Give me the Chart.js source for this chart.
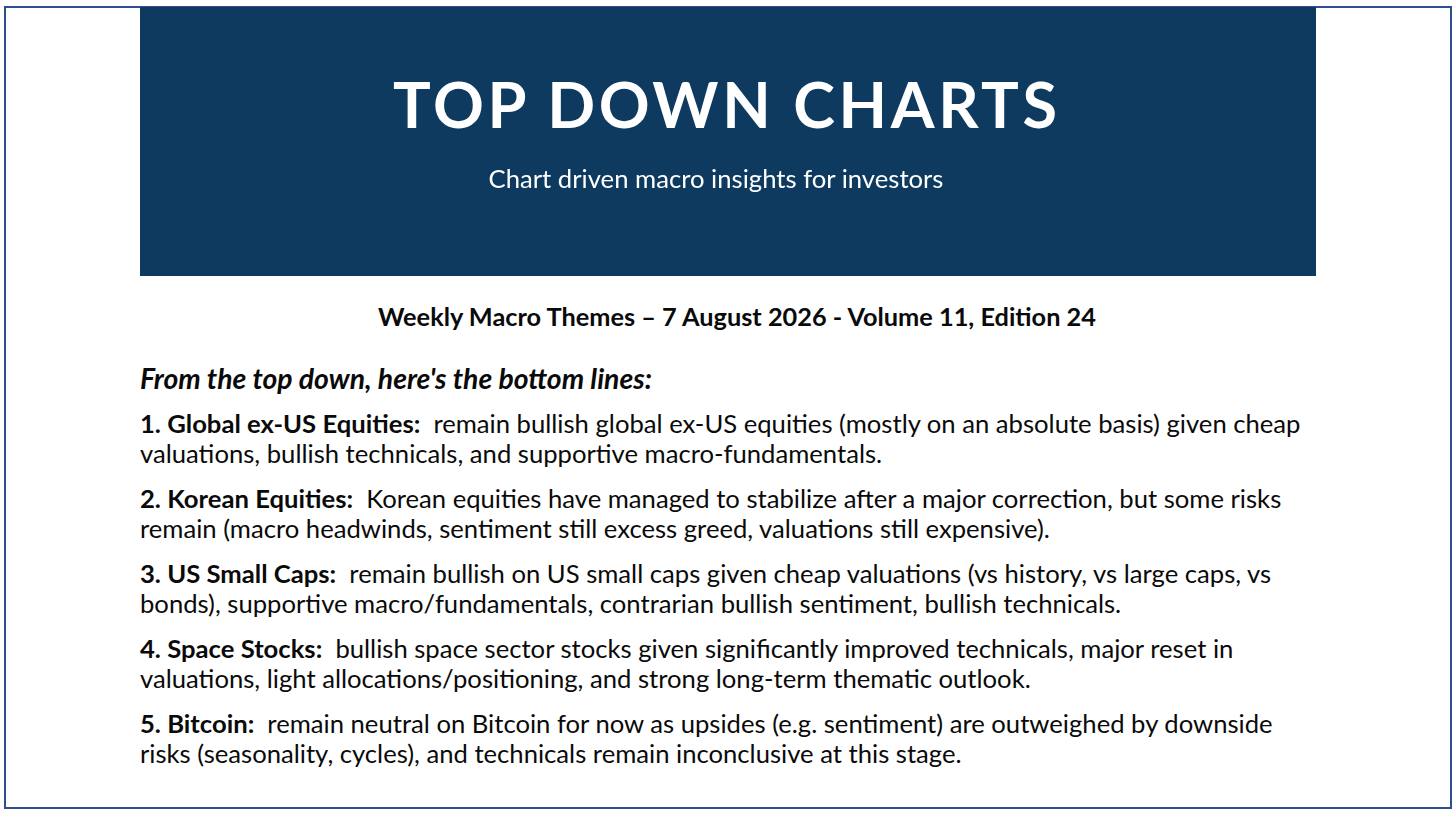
<!DOCTYPE html>
<html>
<head>
<meta charset="utf-8">
<script src="https://cdn.jsdelivr.net/npm/chart.js@4.4.1/dist/chart.umd.min.js"></script>
<style>
  html,body{margin:0;padding:0;background:#fff;}
  body{width:1456px;height:813px;position:relative;overflow:hidden;font-family:Lato,"Open Sans",sans-serif;color:#0a0a0a;}
  #frame{position:absolute;left:4px;top:6px;width:1444px;height:799px;border:2px solid #2f4f8e;}
  #bannerWrap{position:absolute;left:140px;top:7px;width:1176px;height:269px;}
  #banner{position:absolute;left:0;top:0;width:1176px;height:269px;}
  .ln{position:absolute;white-space:pre;line-height:30px;height:30px;}
  b{font-weight:700;}
</style>
</head>
<body>
<div id="frame"></div>
<div id="bannerWrap"><canvas id="banner" width="1176" height="269"></canvas></div>
<div id="texts"></div>
<script>
// ---- content ----
const bannerTitle = ["TOP DOWN CHARTS"];
const bannerSubtitle = ["Chart driven macro insights for investors"];
const headingText = ["Weekly Macro Themes \u2013 7 August 2026 - Volume 11, Edition 24"];
const introText = ["From the top down, here's the bottom lines:"];
const itemLabels = ["1. Global ex-US Equities:", "2. Korean Equities:", "3. US Small Caps:", "4. Space Stocks:", "5. Bitcoin:"];
const itemFirstLines = [
  "  remain bullish global ex-US equities (mostly on an absolute basis) given cheap",
  "  Korean equities have managed to stabilize after a major correction, but some risks",
  "  remain bullish on US small caps given cheap valuations (vs history, vs large caps, vs",
  "  bullish space sector stocks given significantly improved technicals, major reset in",
  "  remain neutral on Bitcoin for now as upsides (e.g. sentiment) are outweighed by downside"
];
const itemSecondLines = [
  "valuations, bullish technicals, and supportive macro-fundamentals.",
  "remain (macro headwinds, sentiment still excess greed, valuations still expensive).",
  "bonds), supportive macro/fundamentals, contrarian bullish sentiment, bullish technicals.",
  "valuations, light allocations/positioning, and strong long-term thematic outlook.",
  "risks (seasonality, cycles), and technicals remain inconclusive at this stage."
];

// ---- banner via Chart.js ----
const bgPlugin = {
  id: 'bannerBg',
  beforeDraw(chart){
    const c = chart.ctx;
    c.save();
    c.fillStyle = '#0d3a5e';
    c.fillRect(0,0,chart.width,chart.height);
    c.restore();
  }
};
new Chart(document.getElementById('banner'), {
  type: 'bar',
  data: { labels: [], datasets: [] },
  options: {
    responsive: false, animation: false,
    plugins: { legend: {display:false}, tooltip:{enabled:false}, title:{display:false} },
    scales: { x:{display:false}, y:{display:false} }
  },
  plugins: [bgPlugin]
});

// ---- text layout ----
const T = document.getElementById('texts');
function mk(html, opts){
  const d = document.createElement('div');
  d.className = 'ln';
  d.innerHTML = html;
  Object.assign(d.style, opts);
  T.appendChild(d);
  return d;
}
function esc(s){return s.replace(/&/g,'&amp;').replace(/</g,'&lt;');}

const BODY = 23;
const ASC = 0.387; // baseline offset from line-box center (Lato)
function place(el, baseline, fs, lh){
  el.style.fontSize = fs+'px';
  el.style.lineHeight = lh+'px';
  el.style.height = lh+'px';
  el.style.top = (baseline - lh/2 - ASC*fs)+'px';
}

const title = mk(esc(bannerTitle[0]), {color:'#fff', fontWeight:'700', left:'0px'});
const sub = mk(esc(bannerSubtitle[0]), {color:'#fff', left:'0px'});
const head = mk('<b>'+esc(headingText[0])+'</b>', {left:'0px'});
const intro = mk('<b><i>'+esc(introText[0])+'</i></b>', {left:'140px'});
const firsts = [], seconds = [];
const firstBase = [433,508,583,658,733];
for (let i=0;i<itemLabels.length;i++){
  firsts.push(mk('<b>'+esc(itemLabels[i])+'</b>'+esc(itemFirstLines[i]), {left:'140px'}));
  seconds.push(mk(esc(itemSecondLines[i]), {left:'140px'}));
}

function width(el){ return el.getBoundingClientRect().width; }
function fitSize(el, target, fs0, baseline, lh){
  place(el, baseline, fs0, lh);
  const w = width(el);
  const fs = fs0 * target / w;
  place(el, baseline, fs, lh);
  return fs;
}

function layout(){
  // body size from first item line width
  const bfs = fitSize(firsts[0], 1161, BODY, 433, 30);
  for (let i=0;i<firsts.length;i++){
    place(firsts[i], firstBase[i], bfs, 30);
    place(seconds[i], firstBase[i]+30, bfs, 30);
  }
  place(intro, 389, bfs, 30);
  fitSize(intro, 512, bfs, 389, 30);
  // heading
  const hfs = fitSize(head, 718, bfs, 326, 36);
  head.style.left = (737 - width(head)/2)+'px';
  // subtitle
  fitSize(sub, 455, 22, 188, 30);
  sub.style.left = (716 - width(sub)/2)+'px';
  // title: cap height ~45px -> font size, then letter-spacing to fit width 664
  const tfs = 63;
  place(title, 128, tfs, 70);
  title.style.letterSpacing = '0px';
  const w0 = width(title);
  const n = bannerTitle[0].length;
  const ls = (664 - w0) / (n - 1);
  title.style.letterSpacing = ls+'px';
  const w1 = width(title) - ls;
  title.style.left = (393 + (664 - w1)/2 - (664-w1)/2)+'px';
}
if (document.fonts && document.fonts.ready){
  document.fonts.load('700 20px Lato').then(()=>document.fonts.load('20px Lato')).then(()=>document.fonts.load('italic 700 20px Lato')).then(layout, layout);
} else layout();
layout();
</script>
</body>
</html>
